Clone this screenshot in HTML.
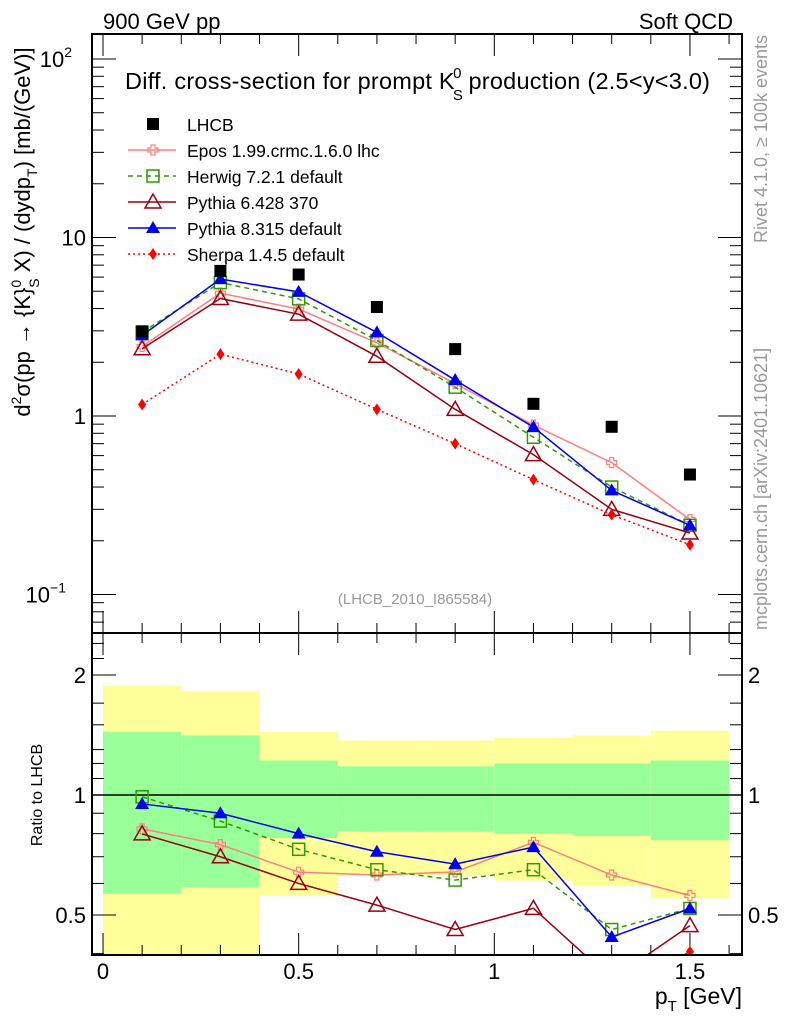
<!DOCTYPE html>
<html><head><meta charset="utf-8">
<style>
html,body{margin:0;padding:0;background:#fff;}
svg{display:block;font-family:"Liberation Sans",sans-serif;}
</style></head>
<body>
<svg id="chart" width="786" height="1024" viewBox="0 0 786 1024">
<text x="103" y="29" font-size="22">900 GeV pp</text>
<text x="733" y="29" font-size="22" text-anchor="end">Soft QCD</text>
<g id="ratioBands"></g>
<g id="ticks"></g>
<g id="series"></g>
<rect x="92" y="34" width="650" height="599" fill="none" stroke="#000" stroke-width="2"/>
<rect x="92" y="633" width="650" height="322" fill="none" stroke="#000" stroke-width="2"/>
<text x="125" y="89" font-size="23.5" textLength="585">Diff. cross-section for prompt K<tspan font-size="15" dx="-2" dy="11">S</tspan><tspan font-size="15" dx="-10" dy="-22">0</tspan><tspan dy="11"> production (2.5&lt;y&lt;3.0)</tspan></text>
<g id="legend"></g>
<text x="415" y="604" font-size="15" fill="#999" text-anchor="middle">(LHCB_2010_I865584)</text>
<text transform="translate(30,232) rotate(-90)" font-size="22" text-anchor="middle">d<tspan font-size="14" dy="-9">2</tspan><tspan dy="9">σ(pp → {K}</tspan><tspan font-size="14" dy="-9">0</tspan><tspan font-size="14" dx="-8" dy="18">S</tspan><tspan dy="-9"> X) / (dydp</tspan><tspan font-size="14" dy="7">T</tspan><tspan dy="-7">) [mb/(GeV)]</tspan></text>
<text transform="translate(42,795) rotate(-90)" font-size="16" text-anchor="middle">Ratio to LHCB</text>
<text x="742" y="1004" font-size="23" text-anchor="end">p<tspan font-size="15" dy="7">T</tspan><tspan dy="-7"> [GeV]</tspan></text>
<text transform="translate(767,35) rotate(-90)" font-size="18" fill="#999" text-anchor="end">Rivet 4.1.0, ≥ 100k events</text>
<text transform="translate(767,630) rotate(-90)" font-size="18" fill="#999">mcplots.cern.ch [arXiv:2401.10621]</text>
</svg>
<script>
const xCenters = [0.1,0.3,0.5,0.7,0.9,1.1,1.3,1.5];
const lhcb = [2.98,6.5,6.2,4.08,2.37,1.17,0.87,0.47];
const epos = [2.45,4.88,3.97,2.57,1.52,0.89,0.548,0.263];
const herwig = [2.95,5.59,4.53,2.65,1.45,0.76,0.40,0.244];
const pythia6 = [2.38,4.55,3.72,2.16,1.09,0.608,0.30,0.221];
const pythia8 = [2.83,5.85,4.96,2.94,1.59,0.866,0.383,0.244];
const sherpa = [1.16,2.22,1.72,1.09,0.70,0.44,0.28,0.19];
const binEdges = [0,0.2,0.4,0.6,0.8,1.0,1.2,1.4,1.6];
const greenHi = [1.44,1.41,1.22,1.18,1.18,1.20,1.20,1.22];
const greenLo = [0.565,0.588,0.78,0.81,0.81,0.80,0.79,0.77];
const yellowHi = [1.88,1.82,1.44,1.37,1.37,1.39,1.41,1.45];
const yellowLo = [0.30,0.30,0.56,0.63,0.63,0.61,0.59,0.55];
const xTicks = [0,0.5,1,1.5];
const xTickLabels = ["0","0.5","1","1.5"];
const ratioTicks = [0.5,1,2];
const ratioTickLabels = ["0.5","1","2"];

const NS="http://www.w3.org/2000/svg";
const X0=92,X1=742;
const sx=v=>103+v*391.3;
const sy=v=>416-Math.log10(v)*178.5;
const ry=v=>795-Math.log2(v)*120;
const RTOP=633,RBOT=955,TTOP=34;
function mk(tag,attrs,parent){const e=document.createElementNS(NS,tag);for(const k in attrs)e.setAttribute(k,attrs[k]);parent.appendChild(e);return e;}
const bands=document.getElementById('ratioBands');
for(let i=0;i<greenHi.length;i++){
  const x=sx(binEdges[i]),w=sx(binEdges[i+1])-x;
  const yt=ry(yellowHi[i]),yb=Math.min(RBOT,ry(yellowLo[i]));
  const r1=mk('rect',{x:x,y:yt,width:w,height:yb-yt,fill:'#ffff99'},bands);
  
  
  const gt=ry(greenHi[i]),gb=ry(greenLo[i]);
  const r2=mk('rect',{x:x,y:gt,width:w,height:gb-gt,fill:'#99ff99'},bands);
  
  
}
const tk=document.getElementById('ticks');
const ln=(x1,y1,x2,y2,p,w)=>mk('line',{x1,y1,x2,y2,stroke:p||'#000','stroke-width':w||1},tk);
ln(X0,ry(1),X1,ry(1),'#000',1.5);
for(let v=0;v<=1.6001;v+=0.1){
  const x=sx(v);const major=Math.abs(v*2-Math.round(v*2))<1e-6;const L=major?22:10;
  ln(x,TTOP,x,TTOP+L);ln(x,RTOP,x,RTOP-L);ln(x,RTOP,x,RTOP+L);ln(x,RBOT,x,RBOT-L);
}
xTicks.forEach((v,i)=>{const t=mk('text',{x:sx(v),y:979,'font-size':22,'text-anchor':'middle'},tk);t.textContent=xTickLabels[i];
  
  });
for(let d=-2;d<=2;d++){for(let m=1;m<10;m++){const v=m*Math.pow(10,d);const y=sy(v);if(y<TTOP||y>RTOP)continue;const L=m==1?24:12;ln(X0,y,X0+L,y);ln(X1,y,X1-L,y);}}
const yl=[[100,"10","2"],[10,"10",""],[1,"1",""],[0.1,"10","−1"]];
yl.forEach(a=>{const t=mk('text',{x:a[2]?(a[2].length>1?66:72):86,y:sy(a[0])+8,'font-size':22,'text-anchor':'end'},tk);t.textContent=a[1];
  
  
  if(a[2]){const s=mk('tspan',{'font-size':14,dy:-10},t);s.textContent=a[2];}});
[0.4,0.5,0.6,0.7,0.8,0.9,1,1.1,1.2,1.3,1.5,1.7,2,2.2,2.4].forEach(v=>{const y=ry(v);if(y<RTOP||y>RBOT)return;const L=(v==0.5||v==1||v==2)?24:12;ln(X0,y,X0+L,y);ln(X1,y,X1-L,y);});
ratioTicks.forEach((v,i)=>{const t=mk('text',{x:86,y:ry(v)+8,'font-size':22,'text-anchor':'end'},tk);t.textContent=ratioTickLabels[i];
  
  
  const t2=mk('text',{x:748,y:ry(v)+8,'font-size':22},tk);t2.textContent=ratioTickLabels[i];
  
  });

function marker(g,type,x,y,c){
  if(type=='sq')return mk('rect',{x:x-6,y:y-6,width:12,height:12,fill:'#000'},g);
  if(type=='osq')return mk('rect',{x:x-6,y:y-6,width:12,height:12,fill:'none',stroke:c,'stroke-width':1.5},g);
  if(type=='otri')return mk('polygon',{points:`${x},${y-8} ${x-8},${y+6} ${x+8},${y+6}`,fill:'none',stroke:c,'stroke-width':1.5},g);
  if(type=='tri')return mk('polygon',{points:`${x},${y-7} ${x-7},${y+5} ${x+7},${y+5}`,fill:c},g);
  if(type=='dia')return mk('polygon',{points:`${x},${y-6} ${x-4},${y} ${x},${y+6} ${x+4},${y}`,fill:c},g);
  if(type=='cross')return mk('path',{d:`M${x-2},${y-5}h4v3h3v4h-3v3h-4v-3h-3v-4h3z`,fill:'none',stroke:c,'stroke-width':1.2},g);
}
const models=[
 {name:'Epos 1.99.crmc.1.6.0 lhc',d:epos,c:'#ff7f7f',dash:'',m:'cross',id:'epos'},
 {name:'Herwig 7.2.1 default',d:herwig,c:'#339900',dash:'5,4',m:'osq',id:'herwig'},
 {name:'Pythia 6.428 370',d:pythia6,c:'#990011',dash:'',m:'otri',id:'pythia6'},
 {name:'Pythia 8.315 default',d:pythia8,c:'#0000ee',dash:'',m:'tri',id:'pythia8'},
 {name:'Sherpa 1.4.5 default',d:sherpa,c:'#ff0000',dash:'2,3',m:'dia',id:'sherpa'}];
const sg=document.getElementById('series');
const clip=mk('clipPath',{id:'rclip'},sg);mk('rect',{x:X0,y:RTOP,width:X1-X0,height:RBOT-RTOP},clip);
models.forEach(md=>{
  const g=mk('g',{},sg);
  
  
  mk('polyline',{points:md.d.map((v,i)=>sx(xCenters[i])+','+sy(v)).join(' '),fill:'none',stroke:md.c,'stroke-width':1.5,'stroke-dasharray':md.dash},g);
  md.d.forEach((v,i)=>marker(g,md.m,sx(xCenters[i]),sy(v),md.c));
  const rg=mk('g',{'clip-path':'url(#rclip)'},sg);
  
  
  mk('polyline',{points:md.d.map((v,i)=>sx(xCenters[i])+','+ry(v/lhcb[i])).join(' '),fill:'none',stroke:md.c,'stroke-width':1.5,'stroke-dasharray':md.dash},rg);
  md.d.forEach((v,i)=>marker(rg,md.m,sx(xCenters[i]),ry(v/lhcb[i]),md.c));
});
const dg=mk('g',{},sg);


lhcb.forEach((v,i)=>marker(dg,'sq',sx(xCenters[i]),sy(v)));
const lg=document.getElementById('legend');
const rows=[{name:'LHCB',m:'sq',c:'#000',dash:'',line:false}].concat(models.map(m=>({name:m.name,m:m.m,c:m.c,dash:m.dash,line:true})));
rows.forEach((r,i)=>{const y=124+i*26;
  const g=mk('g',{},lg);
  
  
  if(r.line)mk('line',{x1:128,y1:y,x2:176,y2:y,stroke:r.c,'stroke-width':1.5,'stroke-dasharray':r.dash},g);
  marker(g,r.m,153,y,r.c);
  const t=mk('text',{x:187,y:y+7,'font-size':17.5},g);t.textContent=r.name;});
</script>
</body></html>
